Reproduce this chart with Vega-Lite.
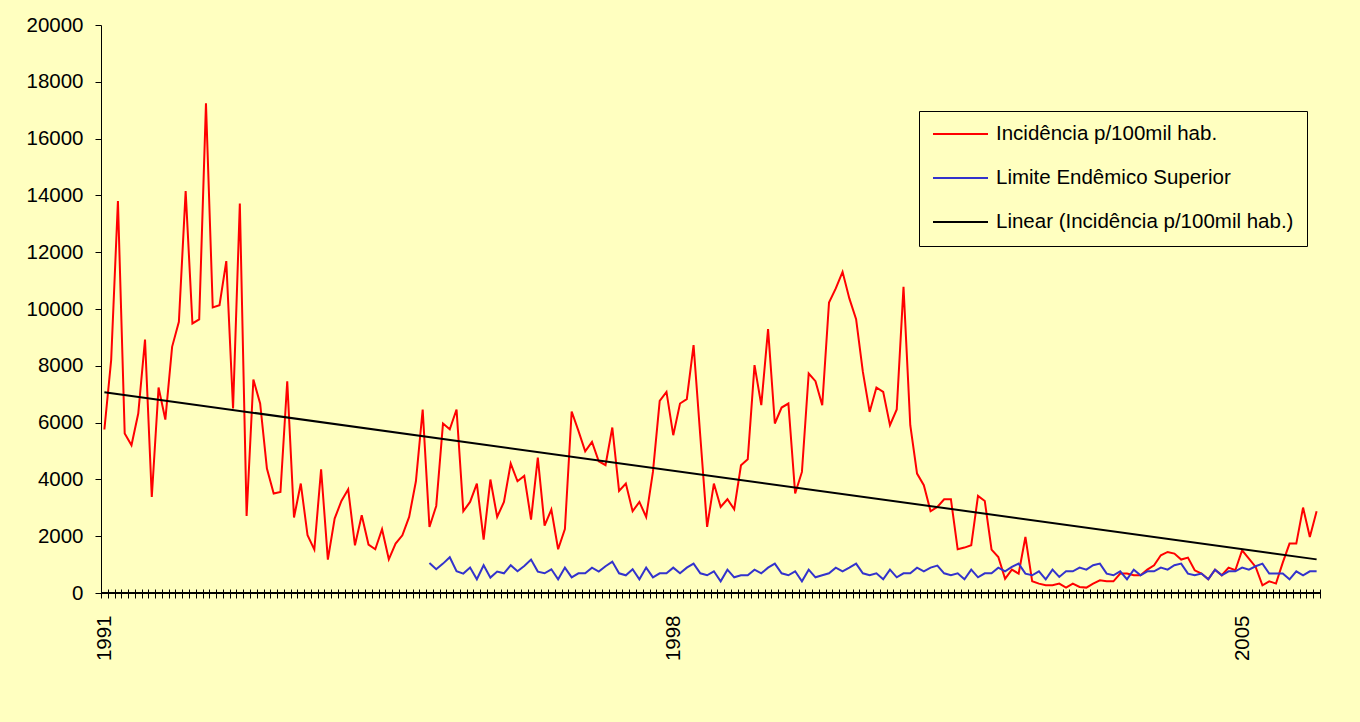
{
  "$schema": "https://vega.github.io/schema/vega-lite/v6.json",
  "width": 1219,
  "height": 568,
  "autosize": "none",
  "padding": {"left": 101, "top": 25, "right": 40, "bottom": 129},
  "background": "#FFFFC0",
  "config": {
    "view": {"stroke": null},
    "font": "Liberation Sans",
    "axis": {"labelFont": "Liberation Sans", "labelColor": "#000000", "grid": false, "title": null},
    "legend": {
      "orient": "none",
      "legendX": 818,
      "legendY": 86,
      "strokeColor": "#000000",
      "fillColor": "#FFFFC0",
      "padding": 13,
      "labelFont": "Liberation Sans",
      "labelFontSize": 20.5,
      "labelColor": "#000000",
      "labelLimit": 0,
      "labelOffset": 7,
      "symbolType": "stroke",
      "symbolSize": 3025,
      "symbolStrokeWidth": 2,
      "clipHeight": 20,
      "rowPadding": 23,
      "title": null
    }
  },
  "data": {"values": [
    {"m":0,"inc":5757},{"m":1,"inc":8198},{"m":2,"inc":13800},{"m":3,"inc":5615},{"m":4,"inc":5203},{"m":5,"inc":6320},
    {"m":6,"inc":8927},{"m":7,"inc":3382},{"m":8,"inc":7236},{"m":9,"inc":6108},{"m":10,"inc":8667},{"m":11,"inc":9547},
    {"m":12,"inc":14152},{"m":13,"inc":9491},{"m":14,"inc":9632},{"m":15,"inc":17241},{"m":16,"inc":10054},{"m":17,"inc":10136},
    {"m":18,"inc":11686},{"m":19,"inc":6496},{"m":20,"inc":13718},{"m":21,"inc":2713},{"m":22,"inc":7518},{"m":23,"inc":6672},
    {"m":24,"inc":4382},{"m":25,"inc":3502},{"m":26,"inc":3558},{"m":27,"inc":7458},{"m":28,"inc":2656},{"m":29,"inc":3854},
    {"m":30,"inc":2033},{"m":31,"inc":1529},{"m":32,"inc":4358},{"m":33,"inc":1177},{"m":34,"inc":2621},{"m":35,"inc":3241},
    {"m":36,"inc":3653},{"m":37,"inc":1680},{"m":38,"inc":2737},{"m":39,"inc":1705},{"m":40,"inc":1540},{"m":41,"inc":2244},
    {"m":42,"inc":1187},{"m":43,"inc":1740},{"m":44,"inc":2033},{"m":45,"inc":2678},{"m":46,"inc":3935},{"m":47,"inc":6461},
    {"m":48,"inc":2325,"lim":1057},{"m":49,"inc":3065,"lim":835},{"m":50,"inc":5968,"lim":1035},{"m":51,"inc":5767,"lim":1258},
    {"m":52,"inc":6461,"lim":765},{"m":53,"inc":2878,"lim":683},{"m":54,"inc":3206,"lim":894},{"m":55,"inc":3854,"lim":483},
    {"m":56,"inc":1881,"lim":976},{"m":57,"inc":3995,"lim":542},{"m":58,"inc":2678,"lim":753},{"m":59,"inc":3206,"lim":694},
    {"m":60,"inc":4559,"lim":976},{"m":61,"inc":3935,"lim":765},{"m":62,"inc":4122,"lim":953},{"m":63,"inc":2586,"lim":1176},
    {"m":64,"inc":4770,"lim":753},{"m":65,"inc":2374,"lim":694},{"m":66,"inc":2938,"lim":835},{"m":67,"inc":1540,"lim":483},
    {"m":68,"inc":2255,"lim":894},{"m":69,"inc":6391,"lim":553},{"m":70,"inc":5707,"lim":694},{"m":71,"inc":4992,"lim":694},
    {"m":72,"inc":5320,"lim":894},{"m":73,"inc":4640,"lim":753},{"m":74,"inc":4499,"lim":941},{"m":75,"inc":5827,"lim":1105},
    {"m":76,"inc":3594,"lim":694},{"m":77,"inc":3854,"lim":624},{"m":78,"inc":2878,"lim":835},{"m":79,"inc":3206,"lim":483},
    {"m":80,"inc":2678,"lim":894},{"m":81,"inc":4263,"lim":553},{"m":82,"inc":6764,"lim":694},{"m":83,"inc":7081,"lim":694},
    {"m":84,"inc":5556,"lim":894},{"m":85,"inc":6672,"lim":694},{"m":86,"inc":6824,"lim":894},{"m":87,"inc":8727,"lim":1035},
    {"m":88,"inc":5500,"lim":694},{"m":89,"inc":2325,"lim":624},{"m":90,"inc":3854,"lim":765},{"m":91,"inc":3030,"lim":413},
    {"m":92,"inc":3301,"lim":823},{"m":93,"inc":2949,"lim":553},{"m":94,"inc":4499,"lim":624},{"m":95,"inc":4710,"lim":624},
    {"m":96,"inc":8022,"lim":823},{"m":97,"inc":6613,"lim":694},{"m":98,"inc":9291,"lim":894},{"m":99,"inc":5968,"lim":1035},
    {"m":100,"inc":6531,"lim":694},{"m":101,"inc":6672,"lim":624},{"m":102,"inc":3502,"lim":765},{"m":103,"inc":4263,"lim":413},
    {"m":104,"inc":7729,"lim":823},{"m":105,"inc":7458,"lim":553},{"m":106,"inc":6613,"lim":624},{"m":107,"inc":10231,"lim":694},
    {"m":108,"inc":10724,"lim":894},{"m":109,"inc":11309,"lim":765},{"m":110,"inc":10372,"lim":894},{"m":111,"inc":9642,"lim":1035},
    {"m":112,"inc":7786,"lim":694},{"m":113,"inc":6377,"lim":624},{"m":114,"inc":7236,"lim":694},{"m":115,"inc":7081,"lim":483},
    {"m":116,"inc":5908,"lim":823},{"m":117,"inc":6461,"lim":553},{"m":118,"inc":10780,"lim":694},{"m":119,"inc":5908,"lim":694},
    {"m":120,"inc":4206,"lim":894},{"m":121,"inc":3794,"lim":765},{"m":122,"inc":2878,"lim":894},{"m":123,"inc":3030,"lim":964},
    {"m":124,"inc":3301,"lim":694},{"m":125,"inc":3301,"lim":624},{"m":126,"inc":1540,"lim":694},{"m":127,"inc":1599,"lim":483},
    {"m":128,"inc":1680,"lim":823},{"m":129,"inc":3418,"lim":553},{"m":130,"inc":3241,"lim":694},{"m":131,"inc":1529,"lim":694},
    {"m":132,"inc":1268,"lim":894},{"m":133,"inc":500,"lim":765},{"m":134,"inc":823,"lim":917},{"m":135,"inc":683,"lim":1035},
    {"m":136,"inc":1973,"lim":683},{"m":137,"inc":412,"lim":624},{"m":138,"inc":331,"lim":765},{"m":139,"inc":271,"lim":483},
    {"m":140,"inc":271,"lim":823},{"m":141,"inc":331,"lim":565},{"m":142,"inc":190,"lim":765},{"m":143,"inc":331,"lim":765},
    {"m":144,"inc":211,"lim":894},{"m":145,"inc":190,"lim":823},{"m":146,"inc":331,"lim":976},{"m":147,"inc":447,"lim":1035},
    {"m":148,"inc":412,"lim":683},{"m":149,"inc":412,"lim":624},{"m":150,"inc":683,"lim":765},{"m":151,"inc":683,"lim":483},
    {"m":152,"inc":624,"lim":823},{"m":153,"inc":624,"lim":624},{"m":154,"inc":823,"lim":765},{"m":155,"inc":976,"lim":765},
    {"m":156,"inc":1328,"lim":894},{"m":157,"inc":1445,"lim":823},{"m":158,"inc":1387,"lim":976},{"m":159,"inc":1177,"lim":1035},
    {"m":160,"inc":1247,"lim":683},{"m":161,"inc":800,"lim":624},{"m":162,"inc":683,"lim":683},{"m":163,"inc":483,"lim":483},
    {"m":164,"inc":823,"lim":823},{"m":165,"inc":624,"lim":624},{"m":166,"inc":894,"lim":765},{"m":167,"inc":800,"lim":765},
    {"m":168,"inc":1504,"lim":894},{"m":169,"inc":1212,"lim":823},{"m":170,"inc":917,"lim":941},{"m":171,"inc":271,"lim":1035},
    {"m":172,"inc":412,"lim":683},{"m":173,"inc":331,"lim":683},{"m":174,"inc":1071,"lim":683},{"m":175,"inc":1740,"lim":483},
    {"m":176,"inc":1740,"lim":765},{"m":177,"inc":3008,"lim":624},{"m":178,"inc":1973,"lim":765},{"m":179,"inc":2878,"lim":765}
  ]},
  "layer": [
    {
      "mark": {"type": "rule", "color": "#000000", "strokeWidth": 1},
      "encoding": {"y": {"datum": 0, "type": "quantitative", "scale": {"domain": [0, 20000]}}}
    },
    {
      "mark": {"type": "line", "strokeWidth": 2},
      "encoding": {
        "x": {
          "field": "m", "type": "quantitative",
          "scale": {"domain": [-0.5, 179.5], "nice": false, "zero": false},
          "axis": {
            "domain": false,
            "offset": -4,
            "tickSize": 9,
            "tickCount": 400,
            "tickColor": "#000000",
            "labelAngle": 270,
            "labelPadding": 17,
            "labelFontSize": 20.5,
            "labelOffset": 3.39,
            "labelOverlap": false,
            "labelFlush": false,
            "labelBound": false,
            "values": [-0.5,0.5,1.5,2.5,3.5,4.5,5.5,6.5,7.5,8.5,9.5,10.5,11.5,12.5,13.5,14.5,15.5,16.5,17.5,18.5,19.5,20.5,21.5,22.5,23.5,24.5,25.5,26.5,27.5,28.5,29.5,30.5,31.5,32.5,33.5,34.5,35.5,36.5,37.5,38.5,39.5,40.5,41.5,42.5,43.5,44.5,45.5,46.5,47.5,48.5,49.5,50.5,51.5,52.5,53.5,54.5,55.5,56.5,57.5,58.5,59.5,60.5,61.5,62.5,63.5,64.5,65.5,66.5,67.5,68.5,69.5,70.5,71.5,72.5,73.5,74.5,75.5,76.5,77.5,78.5,79.5,80.5,81.5,82.5,83.5,84.5,85.5,86.5,87.5,88.5,89.5,90.5,91.5,92.5,93.5,94.5,95.5,96.5,97.5,98.5,99.5,100.5,101.5,102.5,103.5,104.5,105.5,106.5,107.5,108.5,109.5,110.5,111.5,112.5,113.5,114.5,115.5,116.5,117.5,118.5,119.5,120.5,121.5,122.5,123.5,124.5,125.5,126.5,127.5,128.5,129.5,130.5,131.5,132.5,133.5,134.5,135.5,136.5,137.5,138.5,139.5,140.5,141.5,142.5,143.5,144.5,145.5,146.5,147.5,148.5,149.5,150.5,151.5,152.5,153.5,154.5,155.5,156.5,157.5,158.5,159.5,160.5,161.5,162.5,163.5,164.5,165.5,166.5,167.5,168.5,169.5,170.5,171.5,172.5,173.5,174.5,175.5,176.5,177.5,178.5,179.5],
            "labelExpr": "datum.value == -0.5 ? '1991' : datum.value == 83.5 ? '1998' : datum.value == 167.5 ? '2005' : ''"
          }
        },
        "y": {
          "field": "inc", "type": "quantitative",
          "scale": {"domain": [0, 20000], "nice": false},
          "axis": {
            "values": [0,2000,4000,6000,8000,10000,12000,14000,16000,18000,20000],
            "format": "d",
            "domainColor": "#000000",
            "tickColor": "#000000",
            "tickSize": 6,
            "labelPadding": 12,
            "labelFontSize": 20.5
          }
        },
        "color": {
          "datum": "Incidência p/100mil hab.",
          "type": "nominal",
          "scale": {
            "domain": ["Incidência p/100mil hab.", "Limite Endêmico Superior", "Linear (Incidência p/100mil hab.)"],
            "range": ["#FF0000", "#3333CC", "#000000"]
          }
        }
      }
    },
    {
      "transform": [{"filter": "isValid(datum.lim)"}],
      "mark": {"type": "line", "strokeWidth": 2},
      "encoding": {
        "x": {"field": "m", "type": "quantitative"},
        "y": {"field": "lim", "type": "quantitative"},
        "color": {"datum": "Limite Endêmico Superior", "type": "nominal"}
      }
    },
    {
      "transform": [{"regression": "inc", "on": "m", "extent": [0, 179]}],
      "mark": {"type": "line", "strokeWidth": 2},
      "encoding": {
        "x": {"field": "m", "type": "quantitative"},
        "y": {"field": "inc", "type": "quantitative"},
        "color": {"datum": "Linear (Incidência p/100mil hab.)", "type": "nominal"}
      }
    }
  ]
}
